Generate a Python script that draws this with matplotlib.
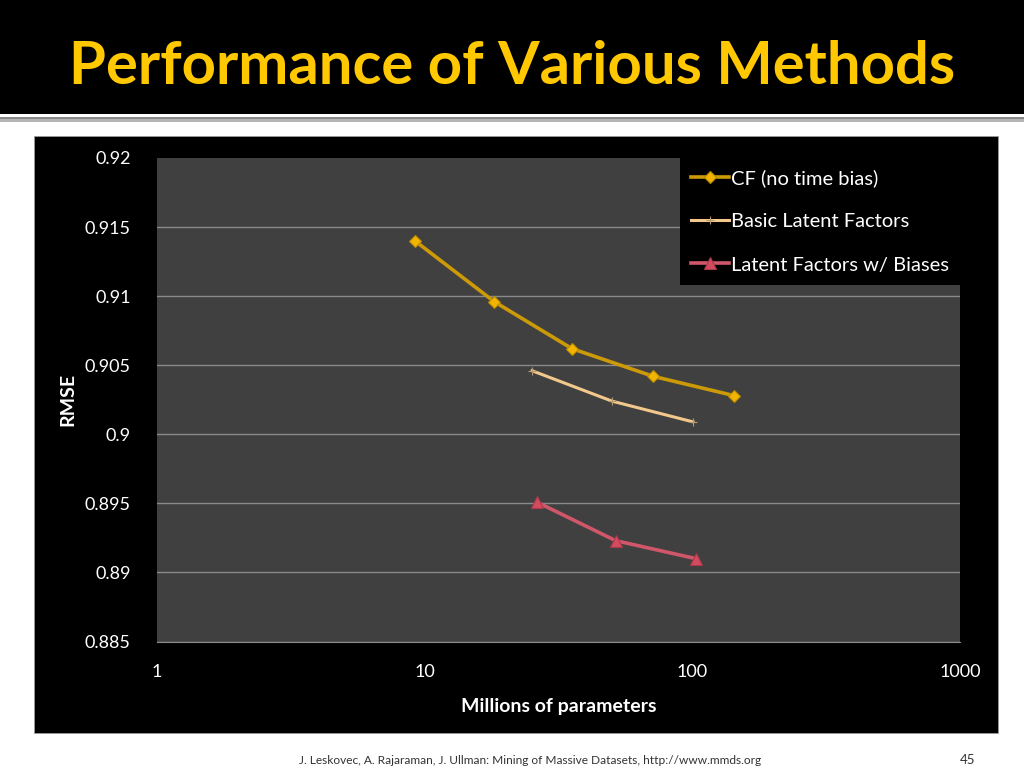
import matplotlib
matplotlib.use('Agg')
import matplotlib.pyplot as plt
from matplotlib.patches import Rectangle

# values (x = millions of parameters, y = RMSE)
cf_x = [9.2, 18.2, 35.5, 71.3, 143]
cf_y = [0.9140, 0.9096, 0.9062, 0.9042, 0.9028]
basic_x = [25.2, 50.1, 100.5]
basic_y = [0.9046, 0.9024, 0.9009]
bias_x = [26.2, 51.7, 103]
bias_y = [0.8951, 0.8923, 0.8910]

labels = ['CF (no time bias)', 'Basic Latent Factors', 'Latent Factors w/ Biases']
yticks = [0.885, 0.89, 0.895, 0.9, 0.905, 0.91, 0.915, 0.92]
ytick_labels = ['0.885', '0.89', '0.895', '0.9', '0.905', '0.91', '0.915', '0.92']
xticks = [1, 10, 100, 1000]
xtick_labels = ['1', '10', '100', '1000']

plt.rcParams['font.family'] = ['Lato', 'DejaVu Sans']

W, H = 1024, 768
fig = plt.figure(figsize=(W/100, H/100), dpi=100, facecolor='white')

def px(x0, y0, x1, y1):
    # pixel box (top-left origin) -> figure fraction rect
    return [x0/W, 1 - y1/H, (x1 - x0)/W, (y1 - y0)/H]

# slide decorations: title band, rule, chart box
fig.patches.append(Rectangle((0, 1 - 114/H), 1, 114/H, transform=fig.transFigure,
                             facecolor='black', edgecolor='none', zorder=-5))
fig.patches.append(Rectangle((0, 1 - 122/H), 1, 5/H, transform=fig.transFigure,
                             facecolor='#b4b4b4', edgecolor='none', zorder=-5))
fig.patches.append(Rectangle((0, 1 - 119/H), 1, 2/H, transform=fig.transFigure,
                             facecolor='#8a8a8a', edgecolor='none', zorder=-5))
fig.patches.append(Rectangle((34/W, 1 - 733/H), (998 - 34)/W, (733 - 136)/H,
                             transform=fig.transFigure, facecolor='black',
                             edgecolor='#9a9a9a', linewidth=0.6, zorder=-5))

fig.text(512/W, 1 - 67/H, 'Performance of Various Methods', color='#FFC800',
         fontsize=43, fontweight='bold', ha='center', va='center')

ax = fig.add_axes(px(157, 158, 960, 641.5))
ax.set_zorder(2)
ax.set_facecolor('#404040')
ax.set_xscale('log')
ax.set_xlim(1, 1000)
ax.set_ylim(0.885, 0.92)

ax.plot(cf_x, cf_y, color='#CC9A06', lw=2.6, marker='D', ms=6.5,
        mfc='#F2B400', mec='#B88A00', mew=0.8, label=labels[0], zorder=3)
ax.plot(basic_x, basic_y, color='#F2C88C', lw=2.2, marker='+', ms=6,
        mec='#B89A70', mew=0.8, label=labels[1], zorder=3)
ax.plot(bias_x, bias_y, color='#D0566A', lw=2.6, marker='^', ms=8,
        mfc='#D44A5E', mec='#A83A4A', mew=0.8, label=labels[2], zorder=3)

ax.set_yticks(yticks)
ax.set_yticklabels(ytick_labels)
ax.set_xticks(xticks)
ax.set_xticklabels(xtick_labels)
ax.xaxis.set_minor_locator(matplotlib.ticker.NullLocator())
ax.tick_params(colors='white', labelsize=13, length=0)
ax.tick_params(axis='y', pad=19)
ax.tick_params(axis='x', pad=16)
ax.grid(axis='y', color='#8a8a8a', lw=1)
ax.yaxis.get_gridlines()[-1].set_visible(False)
ax.set_axisbelow(True)
for s in ['top', 'right', 'left']:
    ax.spines[s].set_visible(False)
ax.spines['bottom'].set_color('#8a8a8a')

ax.set_xlabel('Millions of parameters', color='white', fontsize=14,
              fontweight='bold', labelpad=13)
ax.set_ylabel('RMSE', color='white', fontsize=14, fontweight='bold', labelpad=6)

ax.legend(loc='upper right', bbox_to_anchor=(1, 1), borderaxespad=0,
          frameon=True, facecolor='black', edgecolor='none', framealpha=1,
          fancybox=False, labelcolor='white', fontsize=14.5,
          handlelength=1.9, handletextpad=0.1, labelspacing=1.3,
          borderpad=0.55)

fig.text(530/W, 1 - 760/H,
         'J. Leskovec, A. Rajaraman, J. Ullman: Mining of Massive Datasets, http://www.mmds.org',
         color='#333333', fontsize=8.6, ha='center', va='center')
fig.text(968/W, 1 - 760/H, '45', color='#333333', fontsize=9.5, ha='center', va='center')

fig.savefig('out.png', dpi=100, facecolor='white')
print('Saved out.png')
